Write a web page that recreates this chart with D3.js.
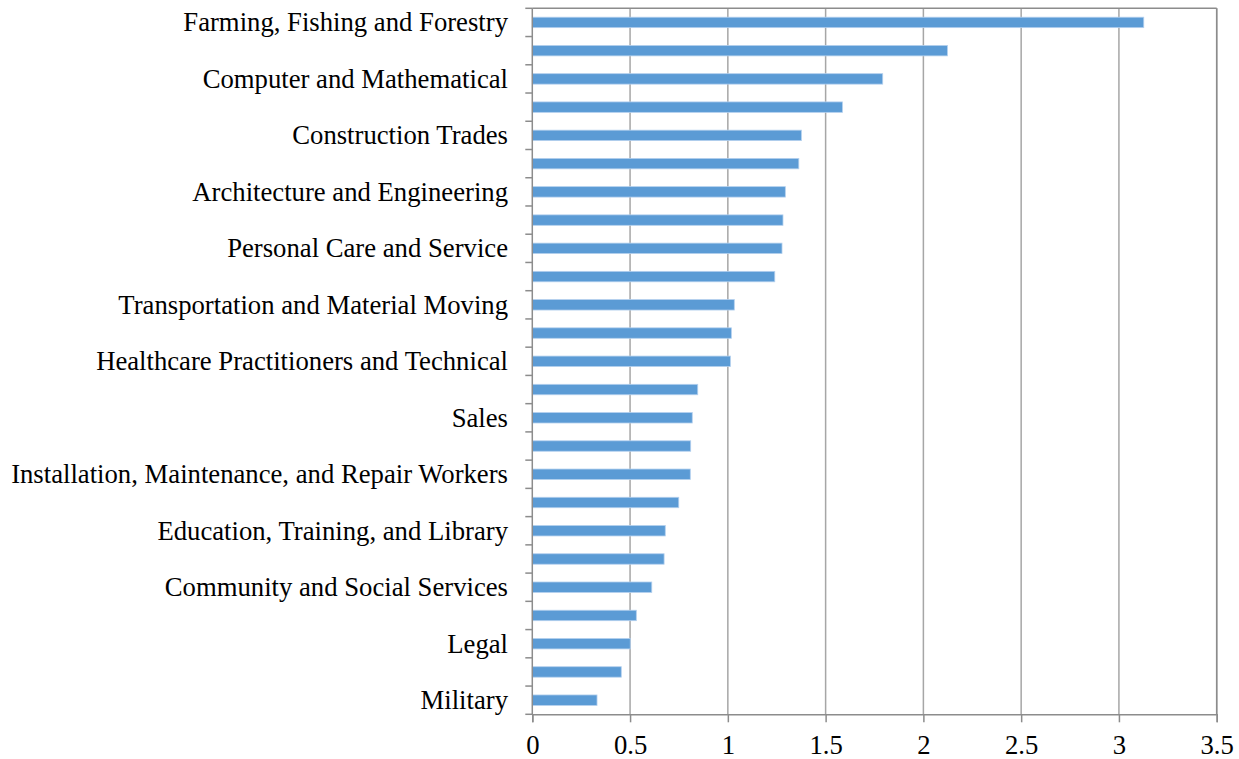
<!DOCTYPE html>
<html>
<head>
<meta charset="utf-8">
<script src="https://cdn.jsdelivr.net/npm/d3@7"></script>
<style>
  html, body { margin: 0; padding: 0; background: #ffffff; }
  svg { display: block; }
</style>
</head>
<body>
<svg id="chart" width="1239" height="759"></svg>
<script>
// Occupation groups, top to bottom; only every other row carries a label
const categories = [
  "Farming, Fishing and Forestry", "",
  "Computer and Mathematical", "",
  "Construction Trades", "",
  "Architecture and Engineering", "",
  "Personal Care and Service", "",
  "Transportation and Material Moving", "",
  "Healthcare Practitioners and Technical", "",
  "Sales", "",
  "Installation, Maintenance, and Repair Workers", "",
  "Education, Training, and Library", "",
  "Community and Social Services", "",
  "Legal", "",
  "Military"
];

const values = [
  3.127, 2.123, 1.792, 1.586, 1.376, 1.363, 1.294, 1.282, 1.277, 1.240,
  1.033, 1.018, 1.013, 0.846, 0.818, 0.810, 0.808, 0.749, 0.680, 0.674,
  0.611, 0.532, 0.501, 0.455, 0.331
];

const xTicks = [0, 0.5, 1, 1.5, 2, 2.5, 3, 3.5];

(function draw() {
  const rows = categories.map((c, i) => ({ i, label: c, value: values[i] }));

  const svg = d3.select("#chart");
  const pLeft = 532.3, pRight = 1216.7, pTop = 8.3, pBottom = 714.3;
  const font = "'Liberation Serif', 'Times New Roman', serif";
  const fontSize = 26.7;
  const axisColor = "#8c8c8c";

  const x = d3.scaleLinear().domain([0, 3.5]).range([pLeft, pRight]);
  const y = d3.scaleBand()
    .domain(rows.map(d => d.i))
    .range([pTop, pBottom])
    .paddingInner(0.63)
    .paddingOuter(0.315);

  // vertical gridlines
  svg.append("g")
    .selectAll("line")
    .data(xTicks.slice(1))
    .join("line")
    .attr("x1", d => x(d)).attr("x2", d => x(d))
    .attr("y1", pTop).attr("y2", pBottom)
    .attr("stroke", "#a6a6a6")
    .attr("stroke-width", 1.5);

  // top and right border of the plot area
  svg.append("line")
    .attr("x1", pLeft).attr("x2", pRight)
    .attr("y1", pTop).attr("y2", pTop)
    .attr("stroke", axisColor).attr("stroke-width", 1.5);
  svg.append("line")
    .attr("x1", pRight).attr("x2", pRight)
    .attr("y1", pTop).attr("y2", pBottom)
    .attr("stroke", axisColor).attr("stroke-width", 1.5);

  // bars
  svg.append("g")
    .selectAll("rect")
    .data(rows)
    .join("rect")
    .attr("x", x(0))
    .attr("y", d => y(d.i))
    .attr("width", d => x(d.value) - x(0))
    .attr("height", y.bandwidth())
    .attr("fill", "#5b9bd5")
    .attr("stroke", "#b4d0ee")
    .attr("stroke-width", 0.8);

  // x axis
  const xAxis = svg.append("g")
    .attr("transform", `translate(0,${pBottom})`)
    .call(d3.axisBottom(x).tickValues(xTicks).tickSize(8).tickPadding(13)
      .tickFormat(d => String(d)));
  xAxis.select(".domain").attr("stroke", axisColor).attr("stroke-width", 1.5);
  xAxis.selectAll(".tick line").attr("stroke", axisColor).attr("stroke-width", 1.5);
  xAxis.selectAll("text")
    .attr("fill", "#000").attr("font-family", font).attr("font-size", fontSize);

  // y axis: line and boundary ticks between categories
  const yAx = svg.append("g");
  yAx.append("line")
    .attr("x1", pLeft).attr("x2", pLeft)
    .attr("y1", pTop).attr("y2", pBottom)
    .attr("stroke", axisColor).attr("stroke-width", 1.5);
  const boundaries = d3.range(categories.length + 1).map(k => pTop + k * y.step());
  yAx.selectAll("line.tk")
    .data(boundaries)
    .join("line")
    .attr("class", "tk")
    .attr("x1", pLeft - 7).attr("x2", pLeft)
    .attr("y1", d => d).attr("y2", d => d)
    .attr("stroke", axisColor).attr("stroke-width", 1.5);

  // category labels
  svg.append("g")
    .selectAll("text")
    .data(rows.filter(d => d.label))
    .join("text")
    .attr("x", 508)
    .attr("y", d => y(d.i) + y.bandwidth() / 2)
    .attr("dy", "0.33em")
    .attr("text-anchor", "end")
    .attr("font-family", font)
    .attr("font-size", fontSize)
    .attr("fill", "#000")
    .text(d => d.label);
})();
</script>
</body>
</html>
